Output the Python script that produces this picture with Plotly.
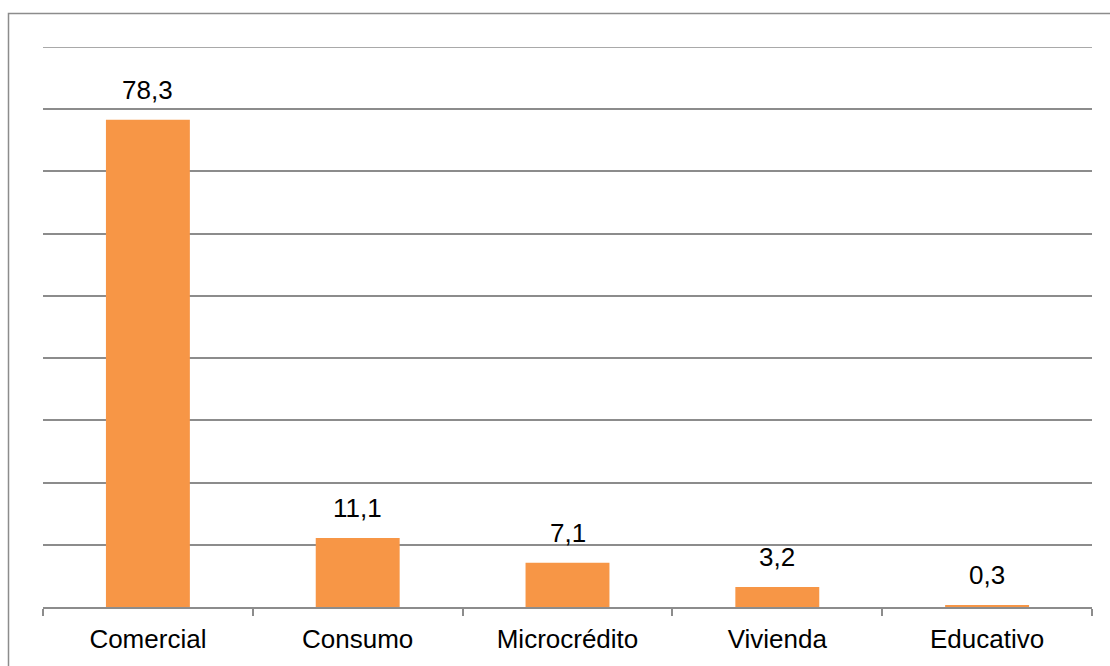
import plotly.graph_objects as go

categories = ["Comercial", "Consumo", "Microcrédito", "Vivienda", "Educativo"]
values = [78.3, 11.1, 7.1, 3.2, 0.3]
value_labels = ["78,3", "11,1", "7,1", "3,2", "0,3"]
y_max = 90

BAR_COLOR = "#F79646"
GRID = "#8C8C8C"
FONT = "Liberation Sans, Arial, sans-serif"

fig = go.Figure()
fig.add_trace(go.Bar(x=categories, y=values, marker=dict(color=BAR_COLOR, line=dict(width=0)),
                     hoverinfo="skip"))

for c, v, t in zip(categories, values, value_labels):
    fig.add_annotation(x=c, y=v, text=t, showarrow=False, yanchor="bottom",
                       yshift=13, font=dict(family=FONT, size=26, color="#000000"))

W, H = 1110, 666
L, R, T, B = 43, 18, 47, 57
pw, ph = W - L - R, H - T - B
fig.add_shape(type="rect", xref="paper", yref="paper",
              x0=(8.5 - L) / pw, x1=(W + 20 - L) / pw,
              y0=-(B + 20) / ph, y1=1 + (T - 13.5) / ph,
              line=dict(color="#8C8C8C", width=1.5), fillcolor="rgba(0,0,0,0)", layer="below")
# top gridline (at range end)
fig.add_shape(type="line", xref="paper", yref="y", x0=0, x1=1, y0=y_max, y1=y_max,
              line=dict(color=GRID, width=1.5), layer="below")

fig.update_layout(
    width=W, height=H,
    margin=dict(l=L, r=R, t=T, b=B, pad=0),
    paper_bgcolor="white", plot_bgcolor="white",
    bargap=0.6, showlegend=False,
    font=dict(family=FONT, size=26, color="#000000"),
)
fig.update_xaxes(type="category", showline=True, linecolor=GRID, linewidth=1.5,
                 ticks="outside", tickson="boundaries", ticklen=7, tickcolor=GRID, tickwidth=1.5,
                 ticklabelstandoff=8,
                 showgrid=False, tickfont=dict(family=FONT, size=26, color="#000000"))
fig.update_yaxes(range=[0, y_max], tick0=0, dtick=10, showgrid=True, gridcolor=GRID, gridwidth=1.5,
                 showticklabels=False, zeroline=False, showline=False, ticks="")

fig.write_html("out.html")
